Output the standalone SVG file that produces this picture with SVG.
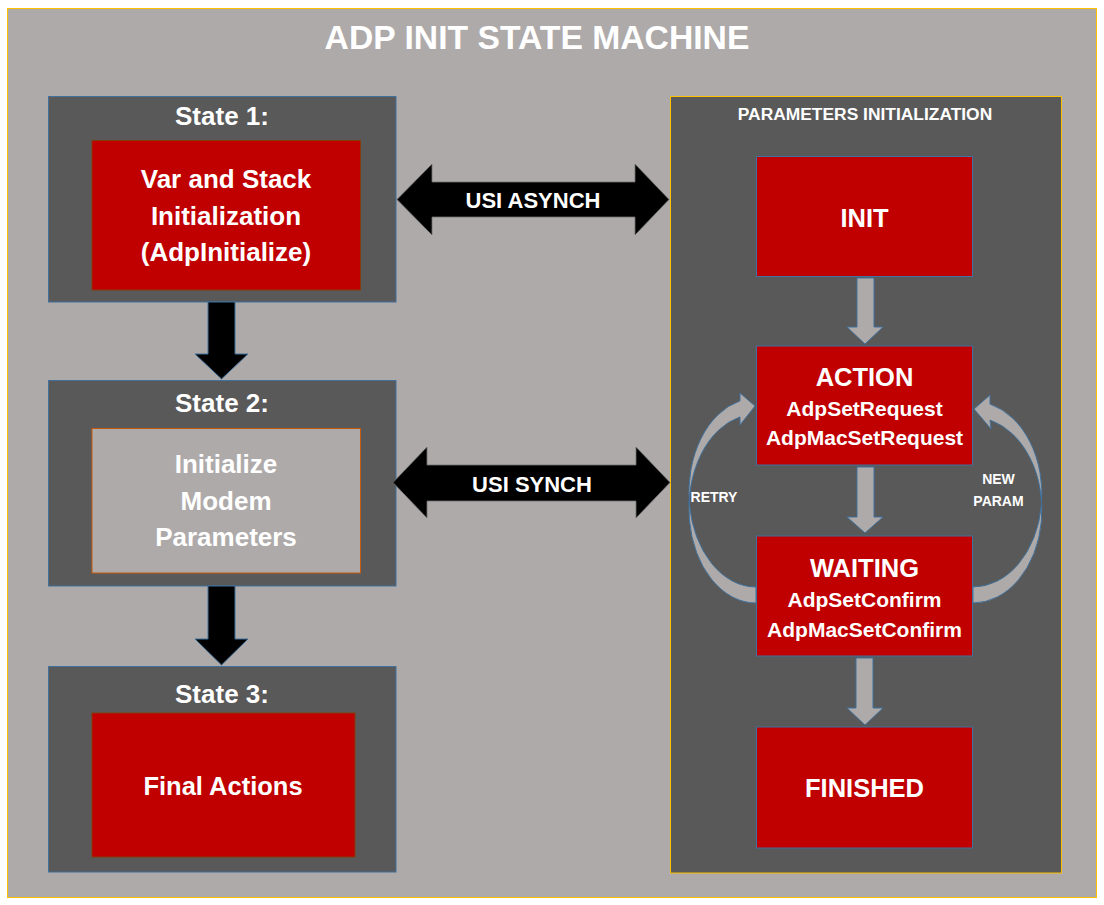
<svg xmlns="http://www.w3.org/2000/svg" width="1104" height="905" viewBox="0 0 1104 905">
  <style>
    text { font-family: "Liberation Sans", Arial, sans-serif; font-weight: bold; fill: #FFFFFF; text-anchor: middle; }
    .title { font-size: 33.7px; }
    .state { font-size: 26px; }
    .body { font-size: 26px; }
    .big { font-size: 25.5px; }
    .sub { font-size: 21px; }
    .panel-title { font-size: 17.4px; }
    .usi { font-size: 22px; }
    .loop { font-size: 14px; }
    .frame { fill: #595959; stroke: #41719C; stroke-width: 1; }
    .red-l { fill: #C00000; stroke: #843C0C; stroke-width: 1; }
    .red-r { fill: #C00000; stroke: #41719C; stroke-width: 1; }
    .gray-box { fill: #AEAAAA; stroke: #C55A11; stroke-width: 1; }
    .black-arrow { fill: #000000; stroke: #41719C; stroke-width: 1; }
    .dbl-arrow { fill: #000000; stroke: #6F6F6F; stroke-width: 0.8; }
    .gray-arrow { fill: #AEAAAA; stroke: #41719C; stroke-width: 1; }
  </style>

  <!-- page -->
  <rect x="0" y="0" width="1104" height="905" fill="#FFFFFF"/>
  <rect x="7.5" y="8.5" width="1089" height="889" fill="#AEAAAA" stroke="#FFC000" stroke-width="1"/>
  <text class="title" x="537" y="49">ADP INIT STATE MACHINE</text>

  <!-- left column: the three states -->
  <g id="state1">
    <rect class="frame" x="48.5" y="96.5" width="347.5" height="205.5"/>
    <text class="state" x="222" y="125">State 1:</text>
    <rect class="red-l" x="92" y="140.5" width="268.5" height="149.5"/>
    <text class="body" x="226" y="188">Var and Stack</text>
    <text class="body" x="226" y="225">Initialization</text>
    <text class="body" x="226" y="261">(AdpInitialize)</text>
  </g>

  <g id="state2">
    <rect class="frame" x="48.5" y="380.5" width="347.5" height="205.5"/>
    <text class="state" x="222" y="412">State 2:</text>
    <rect class="gray-box" x="92" y="428.5" width="268.5" height="144.5"/>
    <text class="body" x="226" y="473">Initialize</text>
    <text class="body" x="226" y="510">Modem</text>
    <text class="body" x="226" y="546">Parameters</text>
  </g>

  <g id="state3">
    <rect class="frame" x="48.5" y="666.5" width="347.5" height="205.5"/>
    <text class="state" x="222" y="703">State 3:</text>
    <rect class="red-l" x="92" y="713" width="263" height="144"/>
    <text class="big" x="223" y="795">Final Actions</text>
  </g>

  <!-- right column: parameter initialization sub-machine -->
  <g id="params-panel">
    <rect x="670.5" y="96.5" width="391" height="776.5" fill="#595959" stroke="#FFC000" stroke-width="1"/>
    <text class="panel-title" x="865" y="120">PARAMETERS INITIALIZATION</text>
  </g>

  <g id="init">
    <rect class="red-r" x="756.5" y="156.5" width="216" height="120"/>
    <text class="big" x="864.5" y="227">INIT</text>
  </g>

  <g id="action">
    <rect class="red-r" x="756.5" y="346" width="216" height="119"/>
    <text class="big" x="864.5" y="386">ACTION</text>
    <text class="sub" x="864.5" y="416">AdpSetRequest</text>
    <text class="sub" x="864.5" y="445">AdpMacSetRequest</text>
  </g>

  <g id="waiting">
    <rect class="red-r" x="756.5" y="536" width="216" height="120"/>
    <text class="big" x="864.5" y="577">WAITING</text>
    <text class="sub" x="864.5" y="607">AdpSetConfirm</text>
    <text class="sub" x="864.5" y="637">AdpMacSetConfirm</text>
  </g>

  <g id="finished">
    <rect class="red-r" x="756.5" y="727" width="216" height="121"/>
    <text class="big" x="864.5" y="797">FINISHED</text>
  </g>

  <!-- connectors -->
  <g id="connectors">
    <!-- state sequence -->
    <polygon class="black-arrow" points="208,302 235,302 235,354 248,354 221.5,379 195,354 208,354"/>
    <polygon class="black-arrow" points="208,586 235,586 235,639 248,639 221.5,665 195,639 208,639"/>

    <!-- USI links between states and the parameter machine -->
    <polygon class="dbl-arrow" points="397,199.5 432,164 432,182 635,182 635,164 669,199.5 635,235 635,217 432,217 432,235"/>
    <text class="usi" x="533" y="208">USI ASYNCH</text>
    <polygon class="dbl-arrow" points="393,482.5 427,447 427,465 636,465 636,447 670,482.5 636,518 636,501 427,501 427,518"/>
    <text class="usi" x="532" y="491.5">USI SYNCH</text>

    <!-- parameter machine transitions -->
    <polygon class="gray-arrow" points="857,278 874,278 874,327 883,327 865,344 847,327 857,327"/>
    <polygon class="gray-arrow" points="857,467 874,467 874,517 883,517 865,533 847,517 857,517"/>
    <polygon class="gray-arrow" points="856,658 873,658 873,708 883,708 865,725 847,708 856,708"/>

    <!-- RETRY loop: WAITING back to ACTION -->
    <path class="gray-arrow" d="M 756 587 A 67 94.4 0 0 1 740 400.9 L 740 393 L 755 406 L 740 425 L 740 416.9 A 67 94.4 0 0 0 756 603 Z"/>
    <text class="loop" x="714" y="501.5">RETRY</text>

    <!-- NEW PARAM loop: WAITING back to ACTION -->
    <path class="gray-arrow" d="M 973 587 A 69 92.9 0 0 0 990 404.1 L 990 395 L 974 409 L 991 429 L 990 420.1 A 69 92.9 0 0 1 973 603 Z"/>
    <text class="loop" x="998.5" y="484">NEW</text>
    <text class="loop" x="998.5" y="506">PARAM</text>
  </g>
</svg>
